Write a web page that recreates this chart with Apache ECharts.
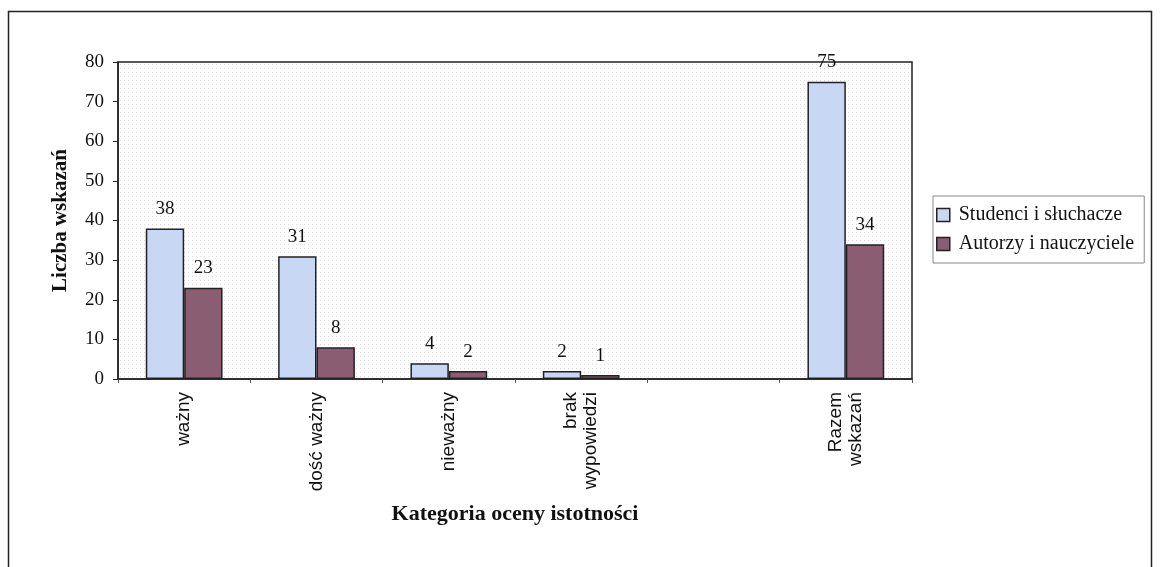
<!DOCTYPE html>
<html>
<head>
    <meta charset="utf-8">
    <title>Kategoria oceny istotności</title>
    <script src="https://cdn.jsdelivr.net/npm/echarts@6/dist/echarts.min.js"></script>
    <style>
        html, body { margin: 0; padding: 0; background: #fff; }
        #chart { width: 1160px; height: 567px; }
    </style>
</head>
<body>
    <div id="chart"></div>
    <script>
        // dane
        var kategorie = ['ważny', 'dość ważny', 'nieważny', 'brak\nwypowiedzi', '', 'Razem\nwskazań'];
        var studenci = [38, 31, 4, 2, null, 75];
        var autorzy = [23, 8, 2, 1, null, 34];
        var yTicks = { min: 0, max: 80, interval: 10 };

        var serif = '"Liberation Serif", "DejaVu Serif", serif';
        var sans = '"Liberation Sans", "DejaVu Sans", sans-serif';

        // drobny wzór kropek jak tło obszaru wykresu
        var dots = document.createElement('canvas');
        dots.width = 4;
        dots.height = 4;
        var dctx = dots.getContext('2d');
        dctx.fillStyle = '#ffffff';
        dctx.fillRect(0, 0, 4, 4);
        dctx.fillStyle = '#dcdcdc';
        dctx.fillRect(0, 0, 1, 1);

        var chart = echarts.init(document.getElementById('chart'));

        var labelStyle = {
            show: true,
            position: 'top',
            distance: 10,
            fontFamily: serif,
            fontSize: 19,
            color: '#111'
        };

        var option = {
            backgroundColor: '#fff',
            animation: false,
            graphic: [
                {
                    type: 'rect',
                    shape: { x: 8.5, y: 11.5, width: 1143, height: 570 },
                    style: { fill: 'none', stroke: '#222', lineWidth: 1.5 },
                    silent: true
                }
            ],
            legend: {
                orient: 'vertical',
                left: 933,
                top: 196,
                itemWidth: 13,
                itemHeight: 13,
                itemGap: 9,
                padding: [9, 10, 9, 3],
                borderColor: '#888',
                borderWidth: 1,
                textStyle: { fontFamily: serif, fontSize: 20, color: '#111', padding: [0, 0, 0, 4] },
                data: [
                    { name: 'Studenci i słuchacze', icon: 'rect', itemStyle: { borderColor: '#222', borderWidth: 1.5 } },
                    { name: 'Autorzy i nauczyciele', icon: 'rect', itemStyle: { borderColor: '#222', borderWidth: 1.5 } }
                ]
            },
            grid: {
                left: 118,
                right: 248,
                top: 62,
                bottom: 188,
                show: true,
                backgroundColor: { image: dots, repeat: 'repeat' },
                borderColor: '#222',
                borderWidth: 1.5
            },
            xAxis: {
                type: 'category',
                data: kategorie,
                name: 'Kategoria oceny istotności',
                nameLocation: 'middle',
                nameGap: 124,
                nameTextStyle: { fontFamily: serif, fontSize: 22, fontWeight: 'bold', color: '#111' },
                axisLine: { lineStyle: { color: '#222', width: 1.5 } },
                axisTick: { show: true, length: 4, lineStyle: { color: '#555' } },
                axisLabel: {
                    rotate: 90,
                    interval: 0,
                    margin: 13,
                    fontFamily: sans,
                    fontSize: 19,
                    lineHeight: 20,
                    color: '#111'
                }
            },
            yAxis: {
                type: 'value',
                min: yTicks.min,
                max: yTicks.max,
                interval: yTicks.interval,
                name: 'Liczba wskazań',
                nameLocation: 'middle',
                nameGap: 47,
                nameTextStyle: { fontFamily: serif, fontSize: 21, fontWeight: 'bold', color: '#111' },
                axisLine: { show: true, lineStyle: { color: '#222', width: 1.5 } },
                axisTick: { show: true, length: 5, lineStyle: { color: '#222' } },
                axisLabel: { fontFamily: serif, fontSize: 19, color: '#111', margin: 14 },
                splitLine: { show: false }
            },
            series: [
                {
                    name: 'Studenci i słuchacze',
                    type: 'bar',
                    data: studenci,
                    barGap: '0%',
                    barCategoryGap: '42%',
                    itemStyle: { color: '#c8d8f4', borderColor: '#222', borderWidth: 1.5 },
                    label: labelStyle
                },
                {
                    name: 'Autorzy i nauczyciele',
                    type: 'bar',
                    data: autorzy,
                    itemStyle: { color: '#8b5d72', borderColor: '#222', borderWidth: 1.5 },
                    label: labelStyle
                }
            ]
        };
        chart.setOption(option);
    </script>
</body>
</html>
